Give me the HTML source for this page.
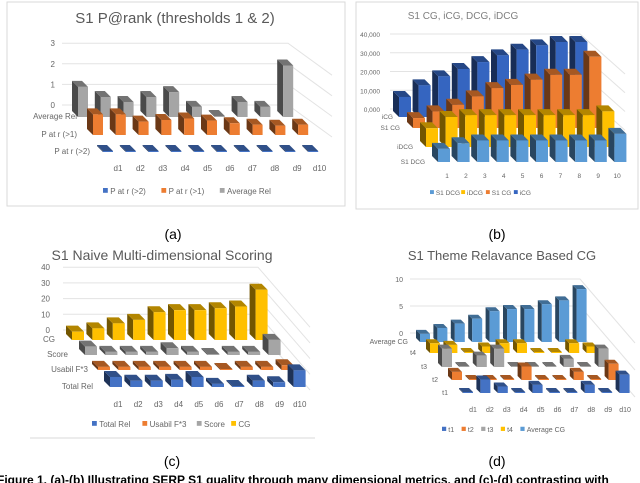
<!DOCTYPE html>
<html><head><meta charset="utf-8"><style>
body{margin:0;background:#fff;width:640px;height:483px;overflow:hidden}
svg{display:block;font-family:"Liberation Sans",sans-serif}
</style></head><body>
<svg id="s" width="640" height="483" viewBox="0 0 640 483">
<rect x="7" y="2" width="338" height="204" fill="#fff" stroke="#d9d9d9"/>
<rect x="356" y="2" width="282" height="207" fill="#fff" stroke="#d9d9d9"/>
<line x1="30" y1="438" x2="315" y2="438" stroke="#d9d9d9"/>
<text x="175" y="23" font-size="15" fill="#595959" text-anchor="middle">S1 P@rank (thresholds 1 &amp; 2)</text>
<text x="463" y="19" font-size="10" fill="#7f7f7f" text-anchor="middle">S1 CG, iCG, DCG, iDCG</text>
<text x="162" y="260" font-size="14" fill="#595959" text-anchor="middle">S1 Naive Multi-dimensional Scoring</text>
<text x="502" y="260" font-size="13" fill="#595959" text-anchor="middle">S1 Theme Relavance Based CG</text>
<text x="173" y="239" font-size="14" fill="#000" text-anchor="middle">(a)</text>
<text x="497" y="239" font-size="14" fill="#000" text-anchor="middle">(b)</text>
<text x="172" y="466" font-size="14" fill="#000" text-anchor="middle">(c)</text>
<text x="497" y="466" font-size="14" fill="#000" text-anchor="middle">(d)</text>
<text x="-3" y="484" font-size="12" font-weight="bold" fill="#000">Figure 1. (a)-(b) Illustrating SERP S1 quality through many dimensional metrics, and (c)-(d) contrasting with</text>
<g id="ga"></g><g id="gb"></g><g id="gc"></g><g id="gd"></g>
</svg>
<script>
// ---- data ----
const catsA = ["d1","d2","d3","d4","d5","d6","d7","d8","d9","d10"];
const seriesNamesA = ["Average Rel","P at r (>1)","P at r (>2)"];
const avgRelA = [1.46,0.97,0.73,0.97,1.21,0.49,0.05,0.73,0.49,2.5];
const pr1A = [1.0,1.0,0.65,0.73,0.8,0.7,0.57,0.5,0.45,0.5];
const pr2A = [0.02,0.02,0.02,0.02,0.02,0.02,0.02,0.02,0.02,0.02];
const ticksA = ["0","1","2","3"];

const catsB = ["1","2","3","4","5","6","7","8","9","10"];
const seriesNamesB = ["iCG","S1 CG","iDCG","S1 DCG"];
const icgB = [10.7,16.9,21.7,25.6,29.3,32.9,35.9,38.2,40,40];
const cgB = [5.3,8.9,12.4,16.9,21.3,23,25.8,28.4,28.4,38];
const idcgB = [10,16,17,17,17,17,17,17,17,19];
const dcgB = [7,10,11.5,11.5,11.5,11.5,11.5,11.5,11.5,15];
const ticksB = ["0,000","10,000","20,000","30,000","40,000"];

const catsC = ["d1","d2","d3","d4","d5","d6","d7","d8","d9","d10"];
const seriesNamesC = ["CG","Score","Usabil F*3","Total Rel"];
const cgC = [5.3,7.4,10.6,12.8,17.7,19,19,20.2,21.3,32];
const scoreC = [5.3,2,2,2,4.3,2,0.5,2,2,9.6];
const usabC = [2,2,2,2,2,2,0.5,2,2,3];
const relC = [6.4,4,4,4.5,6.4,2,0.5,4,3,10.6];
const ticksC = ["0","10","20","30","40"];

const catsD = ["d1","d2","d3","d4","d5","d6","d7","d8","d9","d10"];
const seriesNamesD = ["Average CG","t4","t3","t2","t1"];
const avgD = [1.5,2.6,3.4,4.3,5.7,6.1,6.1,7,7.7,9.8];
const t4D = [1.8,1.5,0.1,1.2,1.8,1.8,0.1,0.1,1.8,1.2];
const t3D = [3.4,0.1,2.1,3.4,0.1,0.1,0.1,1.5,0.1,3.4];
const t2D = [1.5,0.1,0.1,0.1,2.5,0.1,0.1,1.5,0.1,3];
const t1D = [0.1,2.5,1.2,0.1,1.5,0.1,0.1,1.5,0.1,3.4];
const ticksD = ["0","5","10"];

const NS="http://www.w3.org/2000/svg";
function mk(tag,attrs,parent){const e=document.createElementNS(NS,tag);for(const k in attrs)e.setAttribute(k,attrs[k]);parent.appendChild(e);return e;}
function shade(hex,f){const n=parseInt(hex.slice(1),16);let r=n>>16,g=(n>>8)&255,b=n&255;return "rgb("+Math.round(r*f)+","+Math.round(g*f)+","+Math.round(b*f)+")";}

function draw(g,cfg){
  cfg.ticks.forEach((t,i)=>{
    const y=cfg.gy0 - i*cfg.tickStep*cfg.scale;
    const l=mk("polyline",{points:cfg.gx0+","+y+" "+cfg.gx1+","+y+" "+(cfg.gx1+cfg.diag[0])+","+(y+cfg.diag[1]),fill:"none",stroke:"#e3e3e3","stroke-width":1},g);
    
    
    const tx=mk("text",{x:cfg.tlx,y:y+3,"font-size":cfg.fs,fill:"#666","text-anchor":"end"},g);
    tx.textContent=t;
    
    
  });
  cfg.rows.forEach((row,r)=>{
    const lbl=mk("text",{x:cfg.rowLabelX[r],y:cfg.base[r]+2,"font-size":cfg.fs,fill:"#666","text-anchor":"end"},g);
    lbl.textContent=cfg.names[r];
    
    
    row.forEach((v,i)=>{
      const x=cfg.x0[r]+i*cfg.step, b=cfg.base[r], h=Math.max(v*cfg.scale,1), top=b-h, w=cfg.w, d=cfg.d;
      const bar=mk("g",{},g);
      
      
      mk("polygon",{points:`${x},${top} ${x-d},${top-d} ${x-d},${b-d} ${x},${b}`,fill:shade(cfg.colors[r],0.45)},bar);
      mk("polygon",{points:`${x},${top} ${x+w},${top} ${x+w-d},${top-d} ${x-d},${top-d}`,fill:shade(cfg.colors[r],0.7)},bar);
      mk("rect",{x:x,y:top,width:w,height:h,fill:cfg.colors[r]},bar);
    });
  });
  cfg.cats.forEach((c,i)=>{
    const t=mk("text",{x:cfg.cx0+i*cfg.cstep,y:cfg.cy,"font-size":cfg.fs,fill:"#666","text-anchor":"middle"},g);
    t.textContent=c;
    
    
  });
  let lx=cfg.lx;
  cfg.legend.forEach(([name,col])=>{
    const it=mk("g",{},g);
    
    
    mk("rect",{x:lx,y:cfg.ly-cfg.lfs*0.75,width:cfg.lfs*0.6,height:cfg.lfs*0.6,fill:col},it);
    const t=mk("text",{x:lx+cfg.lfs*0.9,y:cfg.ly,"font-size":cfg.lfs,fill:"#666"},it);
    t.textContent=name;
    lx+=cfg.lfs*0.9+name.length*cfg.lfs*0.5+cfg.lfs*0.9;
  });
}
const B="#4472C4",O="#ED7D31",G="#A5A5A5",Y="#FFC000",L="#5B9BD5";
draw(document.getElementById("ga"),{key:"a",rows:[avgRelA,pr1A,pr2A],names:seriesNamesA,cats:catsA,ticks:ticksA,tickStep:1,
 colors:[G,O,B],x0:[78,93,103],base:[117,135,152],step:22.8,w:10,d:6,scale:20.6,
 gy0:105,gx0:62,gx1:288,diag:[44,32],tlx:55,fs:8,rowLabelX:[77,77,90],cx0:118,cstep:22.4,cy:171,
 legend:[["P at r (>2)",B],["P at r (>1)",O],["Average Rel",G]],lx:103,ly:194,lfs:8});
draw(document.getElementById("gb"),{key:"b",rows:[icgB,cgB,idcgB,dcgB],names:seriesNamesB,cats:catsB,ticks:ticksB,tickStep:10,
 colors:["#3565C0",O,Y,L],x0:[399,413,426,438],base:[117,128,147,162],step:19.6,w:12,d:6,scale:1.875,
 gy0:109,gx0:390,gx1:580,diag:[45,40],tlx:380,fs:6.5,rowLabelX:[393,400,413,425],cx0:447,cstep:18.9,cy:178,
 legend:[["S1 DCG",L],["iDCG",Y],["S1 CG",O],["iCG","#3565C0"]],lx:430,ly:195,lfs:6.5});
draw(document.getElementById("gc"),{key:"c",rows:[cgC,scoreC,usabC,relC],names:seriesNamesC,cats:catsC,ticks:ticksC,tickStep:10,
 colors:[Y,G,O,B],x0:[72,85,98,110],base:[340,355,370,387],step:20.4,w:12,d:6,scale:1.57,
 gy0:330,gx0:63,gx1:258,diag:[52,60],tlx:50,fs:8,rowLabelX:[55,68,88,93],cx0:118,cstep:20.2,cy:407,
 legend:[["Total Rel",B],["Usabil F*3",O],["Score",G],["CG",Y]],lx:92,ly:427,lfs:8});
draw(document.getElementById("gd"),{key:"d",rows:[avgD,t4D,t3D,t2D,t1D],names:seriesNamesD,cats:catsD,ticks:ticksD,tickStep:5,
 colors:[L,Y,G,O,B],x0:[420,430,442,452,463],base:[342,353,367,380,393],step:17.4,w:10,d:4,scale:5.4,
 gy0:333,gx0:410,gx1:580,diag:[55,64],tlx:403,fs:7,rowLabelX:[408,416,427,438,448],cx0:473,cstep:16.9,cy:412,
 legend:[["t1",B],["t2",O],["t3",G],["t4",Y],["Average CG",L]],lx:442,ly:432,lfs:7});
</script>
</body></html>
